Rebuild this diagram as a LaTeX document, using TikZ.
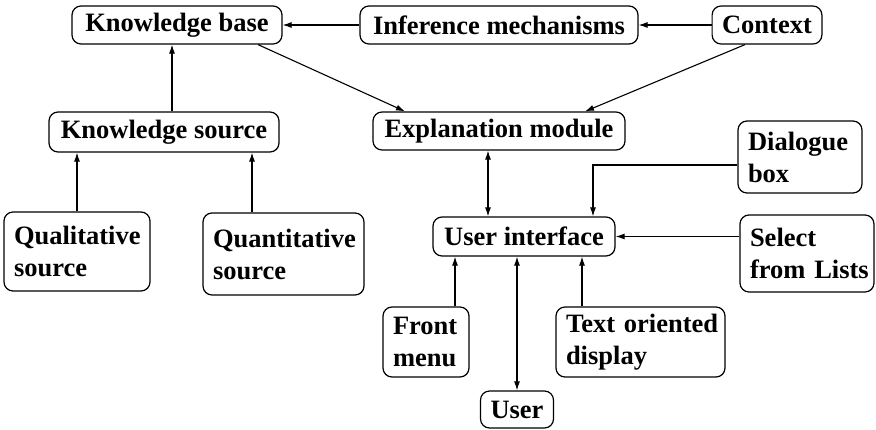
\documentclass[tikz,border=0pt]{standalone}
\usepackage{fontspec}
\setmainfont{Liberation Serif}
\usetikzlibrary{arrows.meta}
\begin{document}
\begin{tikzpicture}[x=1pt,y=-1pt,
  box/.style={draw, rounded corners=9pt, line width=1.2pt, inner xsep=10pt, inner ysep=0pt,
    font=\bfseries\fontsize{26.5}{32}\selectfont},
  mbox/.style={box, align=left},
  arr/.style={line width=1.1pt, -{Latex[length=9pt,width=6pt]}},
  darr/.style={line width=1.1pt, {Latex[length=9pt,width=6pt]}-{Latex[length=9pt,width=6pt]}}]
\useasboundingbox (0,0) rectangle (876,429);
% nodes
\node[box, minimum width=210pt, minimum height=38pt] (kb) at (177,25) {Knowledge base};
\node[box, minimum width=278pt, minimum height=38pt] (inf) at (499,25) {Inference mechanisms};
\node[box, minimum width=100pt, minimum height=38pt] (ctx) at (767,25) {Context};
\node[box, minimum width=230pt, minimum height=40pt] (ks) at (164,132) {Knowledge source};
\node[box, minimum width=252pt, minimum height=38pt] (exp) at (499,131) {Explanation module};
\node[mbox, text width=104pt, minimum height=72pt] (dlg) at (800,157) {\mbox{Dialogue}\\\mbox{box}};
\node[box, minimum width=182pt, minimum height=39pt] (ui) at (524,236.5) {User interface};
\node[mbox, text width=114pt, minimum height=77pt] (sel) at (807,253.5) {\mbox{Select}\\\mbox{from Lists}};
\node[mbox, text width=66pt, minimum height=70pt] (fm) at (426,342) {\mbox{Front}\\\mbox{menu}};
\node[mbox, text width=149pt, minimum height=70pt] (tod) at (640.5,342) {\mbox{Text oriented}\\\mbox{display}};
\node[box, minimum width=70pt, minimum height=37pt] (user) at (517,409.5) {User};
\node[mbox, text width=126pt, minimum height=79pt] (qual) at (77,251.5) {\mbox{Qualitative}\\\mbox{source}};
\node[mbox, text width=141pt, minimum height=82pt] (quan) at (283.5,254) {\mbox{Quantitative}\\\mbox{source}};
\coordinate (quanTop) at ([xshift=-31.5pt]quan.north);
% connectors
\draw[arr] (inf.west) -- (kb.east);
\draw[arr] (ctx.west) -- (inf.east);
\draw[arr] ([xshift=8pt]ks.north) -- ([xshift=-5pt]kb.south);
\draw[arr] ([xshift=81pt]kb.south) -- ([xshift=-94pt]exp.north);
\draw[arr] ([xshift=-22pt]ctx.south) -- ([xshift=86pt]exp.north);
\draw[arr] (qual.north) -- (ks.south -| qual.north);
\draw[arr] (quanTop) -- (ks.south -| quanTop);
\draw[darr] ([xshift=-11pt]exp.south) -- ([xshift=-36pt]ui.north);
\draw[arr] ([yshift=-8pt]dlg.west) -| ([xshift=69pt]ui.north);
\draw[arr] (sel.west |- ui.east) -- (ui.east);
\draw[arr] ([xshift=29pt]fm.north) -- ([xshift=-69pt]ui.south);
\draw[darr] (user.north) -- (ui.south -| user.north);
\draw[arr] ([xshift=-58.5pt]tod.north) -- ([xshift=58pt]ui.south);
\end{tikzpicture}
\end{document}
